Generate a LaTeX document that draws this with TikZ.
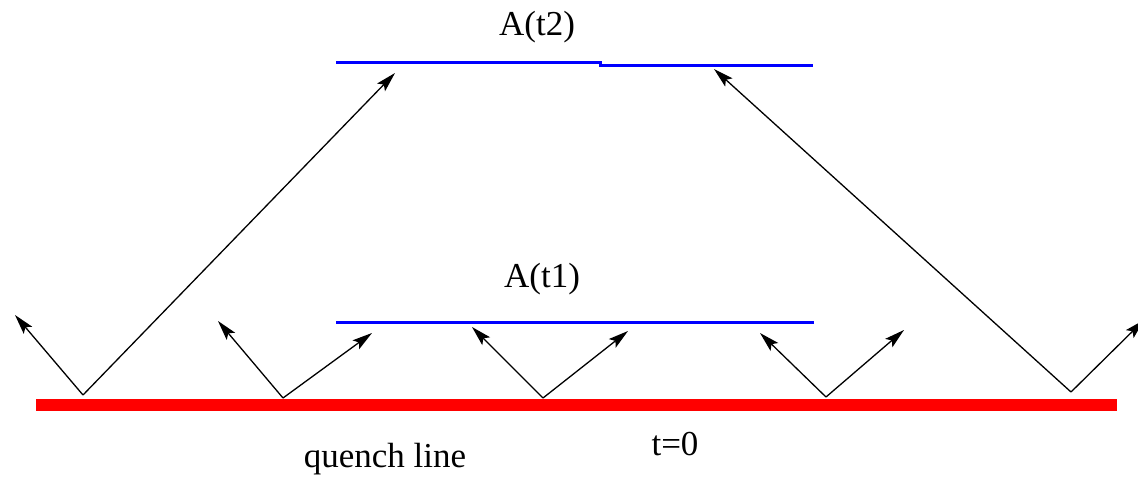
\documentclass[tikz,border=0pt]{standalone}
\usepackage{fontspec}
\setmainfont{Liberation Serif}
\usetikzlibrary{arrows.meta}
\begin{document}
\begin{tikzpicture}[x=1pt,y=-1pt,
  ray/.style={line width=1.3pt,-{Stealth[length=20pt,width=11pt,inset=4pt]}},
  quench/.style={line width=12pt,color=red},
  level/.style={line width=3pt,color=blue},
  lbl/.style={anchor=base,inner sep=0pt,font=\fontsize{35}{40}\selectfont}]
\useasboundingbox (0,0) rectangle (1138,479);
\clip (0,0) rectangle (1138,479);
% quench line
\coordinate (qL) at (36,405);
\coordinate (qR) at (1117,405);
\draw[quench] (qL) -- (qR);
% levels
\coordinate (b1L) at (336,322);
\coordinate (b1R) at (814,322);
\draw[level] (b1L) -- (b1R);
\coordinate (b2L) at (336,62);
\coordinate (b2M) at (600,62);
\coordinate (b2N) at (600,65);
\coordinate (b2R) at (813,65);
\draw[level] (b2L) -- (b2M) -- (b2N) -- (b2R);
% vertices
\coordinate (v1) at (83,395);
\coordinate (v2) at (283,398);
\coordinate (v3) at (543,398);
\coordinate (v4) at (826,397);
\coordinate (v5) at (1071,392);
% tips
\coordinate (t1l) at (15,315);
\coordinate (t1r) at (395,73);
\coordinate (t2l) at (218,321);
\coordinate (t2r) at (372,333);
\coordinate (t3l) at (472,327);
\coordinate (t3r) at (628,331);
\coordinate (t4l) at (760,333);
\coordinate (t4r) at (904,330);
\coordinate (t5l) at (714,69);
\coordinate (t5r) at (1144,320);
\draw[ray] (v1) -- (t1l);
\draw[ray] (v1) -- (t1r);
\draw[ray] (v2) -- (t2l);
\draw[ray] (v2) -- (t2r);
\draw[ray] (v3) -- (t3l);
\draw[ray] (v3) -- (t3r);
\draw[ray] (v4) -- (t4l);
\draw[ray] (v4) -- (t4r);
\draw[ray] (v5) -- (t5l);
\draw[ray] (v5) -- (t5r);
% labels
\node[lbl] (lA2) at (537,35) {A(t2)};
\node[lbl] (lA1) at (542,287) {A(t1)};
\node[lbl] (lq) at (385,467) {quench line};
\node[lbl] (lt) at (675,455) {t=0};
\end{tikzpicture}
\end{document}
